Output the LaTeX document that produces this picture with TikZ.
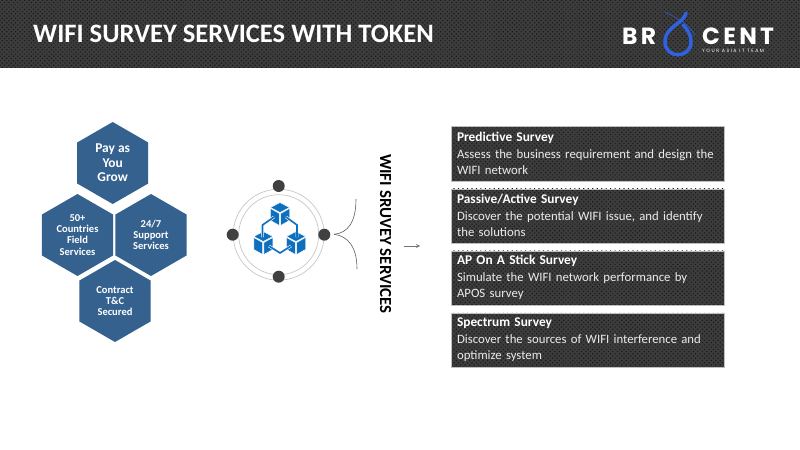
\documentclass[tikz,border=0pt]{standalone}
\usepackage{fontspec}
\setmainfont{Carlito}
\newfontfamily\logofont[LetterSpace=14]{Poppins}
\newfontfamily\tagfont[LetterSpace=32]{Poppins}
\usetikzlibrary{shapes.geometric,patterns.meta}
\definecolor{WShexblue}{HTML}{35618F}
\definecolor{WSiconblue}{HTML}{0F6FBF}
\definecolor{WSdark}{HTML}{3C3C3C}
\definecolor{WSdrop}{HTML}{2F62E0}
\tikzset{WStexture/.style={preaction={fill=WSdark},pattern={Dots[distance=2.7pt,radius=0.7pt,angle=45]},pattern color=black!90},
         WShex/.style={regular polygon,regular polygon sides=6,shape border rotate=30,fill=WShexblue,inner sep=0pt,minimum size=2.46cm,
           text=white,align=center,font=\fontsize{9}{9.5}\selectfont\bfseries},
         WSbox/.style={WStexture,draw=black!25,line width=0.3pt,anchor=north west,minimum width=8.2cm,minimum height=1.62cm,
           inner sep=0pt,inner xsep=5pt,text width=8.2cm-10pt,text=black!8,align=left,font=\fontsize{10.9}{14}\selectfont},
         WSdot/.style={circle,fill=black!75,inner sep=0pt,minimum size=0.36cm},
         WSring/.style={draw=black!22,line width=0.6pt},
         WSlink/.style={draw=white,line width=0.5pt,double=WSiconblue,double distance=1.4pt},
         WScube/.pic={
           \path[fill=WSiconblue,draw=white,line width=0.4pt] (0,-11.5)--(9.5,-6.5)--(0,-1.5)--(-9.5,-6.5)--cycle;
           \path[fill=WSiconblue,draw=white,line width=0.4pt] (-9.5,-5.5)--(-0.6,-0.5)--(-0.6,11.5)--(-9.5,6.5)--cycle;
           \path[fill=WSiconblue,draw=white,line width=0.4pt] (9.5,-5.5)--(0.6,-0.5)--(0.6,11.5)--(9.5,6.5)--cycle;
         }}

\begin{document}
\begin{tikzpicture}[x=0.03cm,y=-0.03cm]
  \useasboundingbox (0,0) rectangle (800,450);
  % header
  \path[WStexture] (0,0) rectangle (800,68);
  \node[anchor=west,text=white,font=\fontsize{22.7}{24}\selectfont\bfseries,inner sep=0pt] (title) at (33,33.5) {WIFI SURVEY SERVICES WITH TOKEN};
  % logo
  \node[anchor=west,text=white,inner sep=0pt,font=\logofont\fontsize{20}{20}\selectfont\bfseries] (logoa) at (622,36) {BR};
  \node[anchor=west,text=white,inner sep=0pt,font=\logofont\fontsize{20}{20}\selectfont\bfseries] (logob) at (702,36) {CENT};
  \node[anchor=west,text=white,inner sep=0pt,font=\tagfont\fontsize{4}{4}\selectfont] (logoc) at (702,51) {YOUR ASIA IT TEAM};
  \draw[WSdrop,line width=3pt,line cap=round] (686,13) .. controls (684,24) and (665,26) .. (665,42) .. controls (665,59) and (691,59) .. (691,42) .. controls (691,34) and (687,29) .. (683,25);
  \draw[WSdrop,line width=0.4pt] (665,12) .. controls (675,17) and (690,24) .. (695,36);
  % hexagons
  \node[WShex,font=\fontsize{11.5}{12.4}\selectfont\bfseries] (pay) at (112.7,163) {Pay as\\You\\Grow};
  \foreach \n/\x/\y/\t in {field/77.5/235/{50+\\Countries\\Field\\Services},support/151/235/{24/7\\Support\\Services},contract/115/301/{Contract\\T\&C\\Secured}}
    \node[WShex] (\n) at (\x,\y) {\t};
  % ring
  \coordinate (hub) at (278.7,234.7);
  \draw[WSring] (hub) circle[radius=45.5];
  \draw[WSring] (hub) circle[radius=40];
  \foreach \n/\x/\y in {top/278.7/186,lft/232.7/234.7,rgt/324.3/234.7,bot/278.7/276.7}
    \node[WSdot] (\n) at (\x,\y) {};
  % cubes
  \foreach \n/\x/\y in {cubea/280/214,cubeb/263.3/243,cubec/296/243}
    \pic (\n) at (\x,\y) {WScube};
  \draw[WSlink] (274,217)--(262.5,225)--(262.5,237);
  \draw[WSlink] (286,217)--(297,225)--(297,237);
  \draw[WSlink] (269,246)--(280,253)--(291,246);
  % brace
  \coordinate (fork) at (334,234.3);
  \coordinate (forka) at (356,199);
  \coordinate (forkb) at (357,269);
  \draw[black!65,line width=0.5pt] (fork) .. controls (348,233) and (356,222) .. (forka);
  \draw[black!65,line width=0.5pt] (fork) .. controls (348,236) and (357,247) .. (forkb);
  \node[rotate=-90,text=black,font=\fontsize{14.4}{15}\selectfont\bfseries,inner sep=0pt] (svc) at (385.7,234) {WIFI SRUVEY SERVICES};
  \coordinate (arra) at (404,246);
  \coordinate (arrb) at (420,246);
  \draw[-stealth,black!55,line width=0.5pt] (arra)--(arrb);
  % boxes
  \foreach \n/\y/\h/\t in {pred/126.5/{Predictive Survey}/{Assess the business requirement and design the WIFI network},
                           pass/188.5/{Passive/Active Survey}/{Discover the potential WIFI issue, and identify the solutions},
                           stick/250.5/{AP On A Stick Survey}/{Simulate the WIFI network performance by APOS survey},
                           spec/312.5/{Spectrum Survey}/{Discover the sources of WIFI interference and optimize system}}
    \node[WSbox] (\n) at (451,\y) {\textcolor{white}{\fontsize{11.4}{14}\selectfont\textbf{\h}}\\\t};
\end{tikzpicture}
\end{document}
